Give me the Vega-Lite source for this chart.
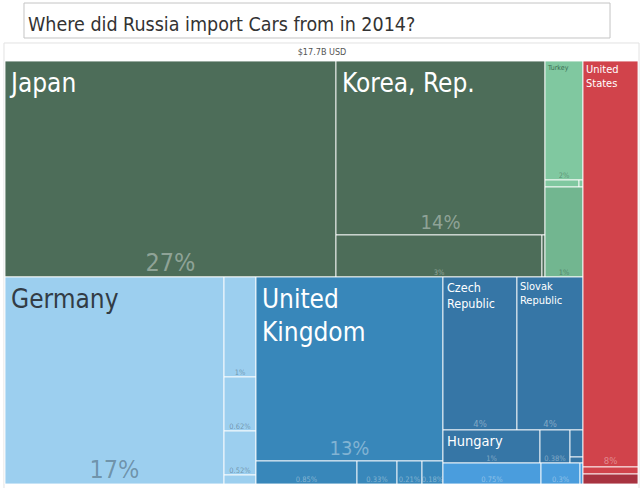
{
  "$schema": "https://vega.github.io/schema/vega-lite/v6.json",
  "width": 633,
  "height": 423,
  "autosize": "none",
  "padding": {"left": 5, "top": 61, "right": 2, "bottom": 4},
  "background": "white",
  "config": {
    "view": {"stroke": null},
    "text": {"font": "DejaVu Sans Condensed, sans-serif", "lineBreak": "\n"}
  },
  "datasets": {
    "cells": [
      {"name": "Japan", "label": "Japan", "grp": "asia", "pct": "27%", "x0": 0, "x1": 52.29, "y0": 0, "y1": 51.06},
      {"name": "Korea", "label": "Korea, Rep.", "grp": "asia", "pct": "14%", "x0": 52.29, "x1": 85.31, "y0": 0, "y1": 41.13},
      {"name": "a3", "label": null, "grp": "asia", "pct": "3%", "x0": 52.29, "x1": 84.83, "y0": 41.13, "y1": 51.06},
      {"name": "a4", "label": null, "grp": "asia", "pct": null, "x0": 84.83, "x1": 85.31, "y0": 41.13, "y1": 51.06},
      {"name": "Turkey", "label": "Turkey", "grp": "turkey", "pct": "2%", "x0": 85.31, "x1": 91.31, "y0": 0, "y1": 28.13},
      {"name": "t2", "label": null, "grp": "turkey", "pct": null, "x0": 85.31, "x1": 90.68, "y0": 28.13, "y1": 29.79},
      {"name": "t3", "label": null, "grp": "turkey", "pct": null, "x0": 90.68, "x1": 91.31, "y0": 28.13, "y1": 29.79},
      {"name": "g1", "label": null, "grp": "green2", "pct": "1%", "x0": 85.31, "x1": 91.31, "y0": 29.79, "y1": 51.06},
      {"name": "Germany", "label": "Germany", "grp": "germany", "pct": "17%", "x0": 0, "x1": 34.6, "y0": 51.06, "y1": 100},
      {"name": "e1", "label": null, "grp": "germany", "pct": "1%", "x0": 34.6, "x1": 39.65, "y0": 51.06, "y1": 74.7},
      {"name": "e2", "label": null, "grp": "germany", "pct": "0.62%", "x0": 34.6, "x1": 39.65, "y0": 74.7, "y1": 87.47},
      {"name": "e3", "label": null, "grp": "germany", "pct": "0.52%", "x0": 34.6, "x1": 39.65, "y0": 87.47, "y1": 97.87},
      {"name": "e4", "label": null, "grp": "germany", "pct": null, "x0": 34.6, "x1": 39.65, "y0": 97.87, "y1": 100},
      {"name": "UK", "label": "United\nKingdom", "grp": "uk", "pct": "13%", "x0": 39.65, "x1": 69.19, "y0": 51.06, "y1": 94.56},
      {"name": "u1", "label": null, "grp": "uk", "pct": "0.85%", "x0": 39.65, "x1": 55.61, "y0": 94.56, "y1": 100},
      {"name": "u2", "label": null, "grp": "uk", "pct": "0.33%", "x0": 55.61, "x1": 61.93, "y0": 94.56, "y1": 100},
      {"name": "u3", "label": null, "grp": "uk", "pct": "0.21%", "x0": 61.93, "x1": 65.88, "y0": 94.56, "y1": 100},
      {"name": "u4", "label": null, "grp": "uk", "pct": "0.18%", "x0": 65.88, "x1": 69.19, "y0": 94.56, "y1": 100},
      {"name": "Czech", "label": "Czech\nRepublic", "grp": "ce", "pct": "4%", "x0": 69.19, "x1": 80.88, "y0": 51.06, "y1": 87.23},
      {"name": "Slovak", "label": "Slovak\nRepublic", "grp": "ce", "pct": "4%", "x0": 80.88, "x1": 91.31, "y0": 51.06, "y1": 87.23},
      {"name": "Hungary", "label": "Hungary", "grp": "ce", "pct": "1%", "x0": 69.19, "x1": 84.52, "y0": 87.23, "y1": 95.04},
      {"name": "c1", "label": null, "grp": "ce", "pct": "0.38%", "x0": 84.52, "x1": 89.26, "y0": 87.23, "y1": 95.04},
      {"name": "c2", "label": null, "grp": "ce", "pct": null, "x0": 89.26, "x1": 91.31, "y0": 87.23, "y1": 93.62},
      {"name": "c3", "label": null, "grp": "ce", "pct": null, "x0": 89.26, "x1": 91.31, "y0": 93.62, "y1": 95.04},
      {"name": "b1", "label": null, "grp": "bright", "pct": "0.75%", "x0": 69.19, "x1": 84.68, "y0": 95.04, "y1": 100},
      {"name": "b2", "label": null, "grp": "bright", "pct": "0.3%", "x0": 84.68, "x1": 90.84, "y0": 95.04, "y1": 100},
      {"name": "b3", "label": null, "grp": "bright", "pct": null, "x0": 90.84, "x1": 91.31, "y0": 95.04, "y1": 100},
      {"name": "US", "label": "United\nStates", "grp": "us", "pct": "8%", "x0": 91.31, "x1": 100, "y0": 0, "y1": 95.98},
      {"name": "r1", "label": null, "grp": "us", "pct": null, "x0": 91.31, "x1": 100, "y0": 95.98, "y1": 97.64},
      {"name": "r2", "label": null, "grp": "usdark", "pct": null, "x0": 91.31, "x1": 100, "y0": 97.64, "y1": 100}
    ],
    "boxes": [
      {"kind": "frame", "x0": -0.16, "x1": 100.16, "y0": -4.26, "y1": 101.4},
      {"kind": "titlebox", "x0": 3.0, "x1": 95.58, "y0": -13.71, "y1": -5.44}
    ],
    "notes": [
      {"kind": "title", "text": "Where did Russia import Cars from in 2014?", "x": 3.63, "y": -7.2},
      {"kind": "total", "text": "$17.7B USD", "x": 50.08, "y": -1.42}
    ]
  },
  "layer": [
    {
      "data": {"name": "boxes"},
      "mark": {"type": "rect", "fill": "white", "strokeWidth": 1},
      "encoding": {
        "x": {"field": "x0", "type": "quantitative", "scale": {"domain": [0, 100], "nice": false, "zero": false}, "axis": null},
        "x2": {"field": "x1"},
        "y": {"field": "y0", "type": "quantitative", "scale": {"domain": [0, 100], "nice": false, "zero": false, "reverse": true}, "axis": null},
        "y2": {"field": "y1"},
        "stroke": {"condition": {"test": "datum.kind === 'titlebox'", "value": "#c4c4c4"}, "value": "#e2e2e2"}
      }
    },
    {
      "data": {"name": "notes"},
      "transform": [{"filter": "datum.kind === 'title'"}],
      "mark": {"type": "text", "align": "left", "baseline": "alphabetic", "fontSize": 19.5, "color": "#333333"},
      "encoding": {
        "x": {"field": "x", "type": "quantitative", "scale": {"domain": [0, 100], "nice": false, "zero": false}, "axis": null},
        "y": {"field": "y", "type": "quantitative", "scale": {"domain": [0, 100], "nice": false, "zero": false, "reverse": true}, "axis": null},
        "text": {"field": "text"}
      }
    },
    {
      "data": {"name": "notes"},
      "transform": [{"filter": "datum.kind === 'total'"}],
      "mark": {"type": "text", "align": "center", "baseline": "alphabetic", "fontSize": 9, "color": "#555555"},
      "encoding": {
        "x": {"field": "x", "type": "quantitative", "scale": {"domain": [0, 100], "nice": false, "zero": false}, "axis": null},
        "y": {"field": "y", "type": "quantitative", "scale": {"domain": [0, 100], "nice": false, "zero": false, "reverse": true}, "axis": null},
        "text": {"field": "text"}
      }
    },
    {
      "data": {"name": "cells"},
      "mark": {"type": "rect", "stroke": "white", "strokeWidth": 1, "strokeOpacity": 0.85},
      "encoding": {
        "x": {"field": "x0", "type": "quantitative", "scale": {"domain": [0, 100], "nice": false, "zero": false}, "axis": null},
        "x2": {"field": "x1"},
        "y": {"field": "y0", "type": "quantitative", "scale": {"domain": [0, 100], "nice": false, "zero": false, "reverse": true}, "axis": null},
        "y2": {"field": "y1"},
        "color": {
          "field": "grp", "type": "nominal", "legend": null,
          "scale": {
            "domain": ["asia", "turkey", "green2", "germany", "uk", "ce", "bright", "us", "usdark"],
            "range": ["#4d6d59", "#80c8a0", "#72b690", "#9ccfef", "#3887ba", "#3676a6", "#4a9ddd", "#d1434b", "#a83340"]
          }
        }
      }
    },
    {
      "data": {"name": "cells"},
      "transform": [{"filter": {"field": "name", "oneOf": ["Japan", "Korea", "Germany", "UK"]}}],
      "mark": {"type": "text", "align": "left", "baseline": "top", "fontSize": 26, "lineHeight": 33, "dx": 6, "dy": 10},
      "encoding": {
        "x": {"field": "x0", "type": "quantitative", "scale": {"domain": [0, 100], "nice": false, "zero": false}, "axis": null},
        "y": {"field": "y0", "type": "quantitative", "scale": {"domain": [0, 100], "nice": false, "zero": false, "reverse": true}, "axis": null},
        "text": {"field": "label"},
        "color": {"condition": {"test": "datum.grp === 'germany'", "value": "#323c45"}, "value": "white"}
      }
    },
    {
      "data": {"name": "cells"},
      "transform": [{"filter": {"field": "name", "oneOf": ["Czech"]}}],
      "mark": {"type": "text", "align": "left", "baseline": "top", "fontSize": 12.5, "lineHeight": 16, "dx": 4, "dy": 5, "color": "white"},
      "encoding": {
        "x": {"field": "x0", "type": "quantitative", "scale": {"domain": [0, 100], "nice": false, "zero": false}, "axis": null},
        "y": {"field": "y0", "type": "quantitative", "scale": {"domain": [0, 100], "nice": false, "zero": false, "reverse": true}, "axis": null},
        "text": {"field": "label"}
      }
    },
    {
      "data": {"name": "cells"},
      "transform": [{"filter": {"field": "name", "oneOf": ["Slovak"]}}],
      "mark": {"type": "text", "align": "left", "baseline": "top", "fontSize": 11, "lineHeight": 14, "dx": 3, "dy": 4, "color": "white"},
      "encoding": {
        "x": {"field": "x0", "type": "quantitative", "scale": {"domain": [0, 100], "nice": false, "zero": false}, "axis": null},
        "y": {"field": "y0", "type": "quantitative", "scale": {"domain": [0, 100], "nice": false, "zero": false, "reverse": true}, "axis": null},
        "text": {"field": "label"}
      }
    },
    {
      "data": {"name": "cells"},
      "transform": [{"filter": {"field": "name", "oneOf": ["Hungary"]}}],
      "mark": {"type": "text", "align": "left", "baseline": "top", "fontSize": 14.5, "dx": 4, "dy": 5, "color": "white"},
      "encoding": {
        "x": {"field": "x0", "type": "quantitative", "scale": {"domain": [0, 100], "nice": false, "zero": false}, "axis": null},
        "y": {"field": "y0", "type": "quantitative", "scale": {"domain": [0, 100], "nice": false, "zero": false, "reverse": true}, "axis": null},
        "text": {"field": "label"}
      }
    },
    {
      "data": {"name": "cells"},
      "transform": [{"filter": {"field": "name", "oneOf": ["US"]}}],
      "mark": {"type": "text", "align": "left", "baseline": "top", "fontSize": 11, "lineHeight": 14, "dx": 3, "dy": 3, "color": "white"},
      "encoding": {
        "x": {"field": "x0", "type": "quantitative", "scale": {"domain": [0, 100], "nice": false, "zero": false}, "axis": null},
        "y": {"field": "y0", "type": "quantitative", "scale": {"domain": [0, 100], "nice": false, "zero": false, "reverse": true}, "axis": null},
        "text": {"field": "label"}
      }
    },
    {
      "data": {"name": "cells"},
      "transform": [{"filter": {"field": "name", "oneOf": ["Turkey"]}}],
      "mark": {"type": "text", "align": "left", "baseline": "top", "fontSize": 7, "dx": 3, "dy": 3, "color": "#3b6d52"},
      "encoding": {
        "x": {"field": "x0", "type": "quantitative", "scale": {"domain": [0, 100], "nice": false, "zero": false}, "axis": null},
        "y": {"field": "y0", "type": "quantitative", "scale": {"domain": [0, 100], "nice": false, "zero": false, "reverse": true}, "axis": null},
        "text": {"field": "label"}
      }
    },
    {
      "data": {"name": "cells"},
      "transform": [
        {"filter": "isValid(datum.pct)"},
        {"calculate": "(datum.x0 + datum.x1) / 2", "as": "xc"},
        {"calculate": "indexof(['Japan','Germany'], datum.name) >= 0 ? 'big' : indexof(['Korea','UK'], datum.name) >= 0 ? 'large' : indexof(['Czech','Slovak','US'], datum.name) >= 0 ? 'mid' : 'small'", "as": "tier"},
        {"filter": "datum.tier === 'big'"}
      ],
      "mark": {"type": "text", "align": "center", "baseline": "alphabetic", "fontSize": 25, "dy": -6},
      "encoding": {
        "x": {"field": "xc", "type": "quantitative", "scale": {"domain": [0, 100], "nice": false, "zero": false}, "axis": null},
        "y": {"field": "y1", "type": "quantitative", "scale": {"domain": [0, 100], "nice": false, "zero": false, "reverse": true}, "axis": null},
        "text": {"field": "pct"},
        "color": {"condition": {"test": "datum.grp === 'germany' || datum.grp === 'turkey' || datum.grp === 'green2'", "value": "rgba(0,0,0,0.3)"}, "value": "rgba(255,255,255,0.38)"}
      }
    },
    {
      "data": {"name": "cells"},
      "transform": [
        {"filter": "isValid(datum.pct)"},
        {"calculate": "(datum.x0 + datum.x1) / 2", "as": "xc"},
        {"calculate": "indexof(['Japan','Germany'], datum.name) >= 0 ? 'big' : indexof(['Korea','UK'], datum.name) >= 0 ? 'large' : indexof(['Czech','Slovak','US'], datum.name) >= 0 ? 'mid' : 'small'", "as": "tier"},
        {"filter": "datum.tier === 'large'"}
      ],
      "mark": {"type": "text", "align": "center", "baseline": "alphabetic", "fontSize": 20, "dy": -6},
      "encoding": {
        "x": {"field": "xc", "type": "quantitative", "scale": {"domain": [0, 100], "nice": false, "zero": false}, "axis": null},
        "y": {"field": "y1", "type": "quantitative", "scale": {"domain": [0, 100], "nice": false, "zero": false, "reverse": true}, "axis": null},
        "text": {"field": "pct"},
        "color": {"condition": {"test": "datum.grp === 'germany' || datum.grp === 'turkey' || datum.grp === 'green2'", "value": "rgba(0,0,0,0.3)"}, "value": "rgba(255,255,255,0.38)"}
      }
    },
    {
      "data": {"name": "cells"},
      "transform": [
        {"filter": "isValid(datum.pct)"},
        {"calculate": "(datum.x0 + datum.x1) / 2", "as": "xc"},
        {"calculate": "indexof(['Japan','Germany'], datum.name) >= 0 ? 'big' : indexof(['Korea','UK'], datum.name) >= 0 ? 'large' : indexof(['Czech','Slovak','US'], datum.name) >= 0 ? 'mid' : 'small'", "as": "tier"},
        {"filter": "datum.tier === 'mid'"}
      ],
      "mark": {"type": "text", "align": "center", "baseline": "alphabetic", "fontSize": 9.5, "dy": -3},
      "encoding": {
        "x": {"field": "xc", "type": "quantitative", "scale": {"domain": [0, 100], "nice": false, "zero": false}, "axis": null},
        "y": {"field": "y1", "type": "quantitative", "scale": {"domain": [0, 100], "nice": false, "zero": false, "reverse": true}, "axis": null},
        "text": {"field": "pct"},
        "color": {"condition": {"test": "datum.grp === 'germany' || datum.grp === 'turkey' || datum.grp === 'green2'", "value": "rgba(0,0,0,0.3)"}, "value": "rgba(255,255,255,0.38)"}
      }
    },
    {
      "data": {"name": "cells"},
      "transform": [
        {"filter": "isValid(datum.pct)"},
        {"calculate": "(datum.x0 + datum.x1) / 2", "as": "xc"},
        {"calculate": "indexof(['Japan','Germany'], datum.name) >= 0 ? 'big' : indexof(['Korea','UK'], datum.name) >= 0 ? 'large' : indexof(['Czech','Slovak','US'], datum.name) >= 0 ? 'mid' : 'small'", "as": "tier"},
        {"filter": "datum.tier === 'small'"}
      ],
      "mark": {"type": "text", "align": "center", "baseline": "alphabetic", "fontSize": 7.5, "dy": -2},
      "encoding": {
        "x": {"field": "xc", "type": "quantitative", "scale": {"domain": [0, 100], "nice": false, "zero": false}, "axis": null},
        "y": {"field": "y1", "type": "quantitative", "scale": {"domain": [0, 100], "nice": false, "zero": false, "reverse": true}, "axis": null},
        "text": {"field": "pct"},
        "color": {"condition": {"test": "datum.grp === 'germany' || datum.grp === 'turkey' || datum.grp === 'green2'", "value": "rgba(0,0,0,0.3)"}, "value": "rgba(255,255,255,0.38)"}
      }
    }
  ]
}
